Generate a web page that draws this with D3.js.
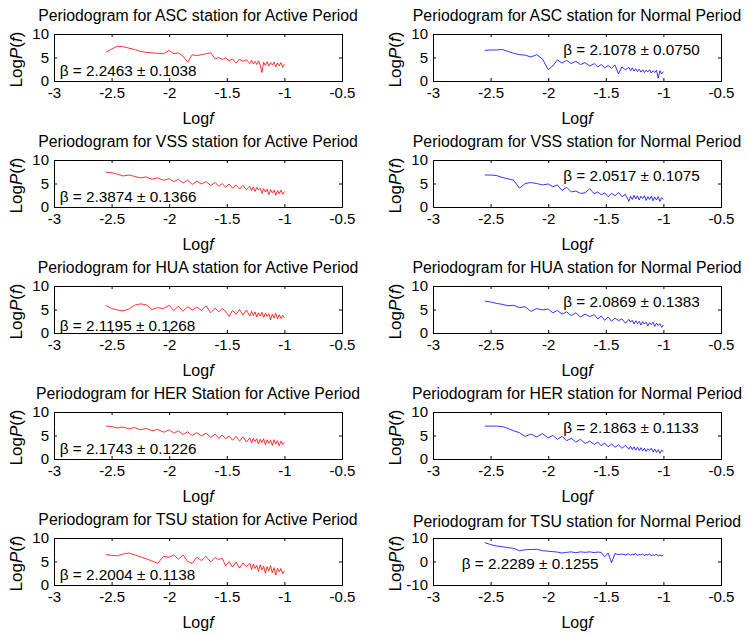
<!DOCTYPE html>
<html>
<head>
<meta charset="utf-8">
<script src="https://cdn.jsdelivr.net/npm/d3@7"></script>
<style>
  body { margin: 0; background: #fff; }
  svg { display: block; font-family: "Liberation Sans", Arial, sans-serif; }
</style>
</head>
<body>
<svg id="fig" width="748" height="636"></svg>
<script>
// log frequency positions shared by every periodogram
var logf = [-2.55,-2.5,-2.45,-2.4,-2.35,-2.3,-2.25,-2.2,-2.15,-2.1,-2.05,-2.0,
  -1.96,-1.92,-1.88,-1.84,-1.8,-1.76,-1.72,-1.68,-1.64,-1.6,
  -1.57,-1.54,-1.51,-1.48,-1.45,-1.42,-1.39,-1.36,-1.33,-1.3,
  -1.285,-1.27,-1.255,-1.24,-1.225,-1.21,-1.195,-1.18,-1.165,-1.15,-1.135,-1.12,-1.105,-1.09,-1.075,-1.06,-1.045,-1.03,-1.015,-1.0];

var ascActive = [6.1,6.8,7.4,7.3,7.0,6.7,6.3,6.1,6.0,5.9,5.8,6.5,
  5.8,6.0,5.3,4.0,5.6,5.4,5.6,5.8,6.0,4.7,
  5.0,4.6,4.9,4.3,4.7,3.8,4.6,4.2,4.5,3.7,
  4.4,3.6,4.2,3.5,4.3,3.4,1.8,4.0,3.3,4.1,3.2,3.9,3.4,4.0,3.0,3.8,3.2,3.9,2.9,3.6];
var ascNormal = [6.5,6.6,6.6,6.7,6.3,5.9,5.6,5.5,5.1,5.6,4.7,2.4,
  3.2,4.5,3.8,4.4,3.7,4.2,3.5,3.9,3.2,3.7,
  3.0,3.5,2.8,3.3,2.7,3.4,1.5,3.0,2.4,2.9,
  2.2,2.8,2.1,2.6,2.0,2.5,1.9,2.4,1.8,2.3,1.9,2.4,1.7,2.2,1.8,2.3,0.6,2.2,1.5,2.0];
var vssActive = [7.4,7.3,7.0,6.6,6.8,6.5,6.2,6.4,5.9,6.2,5.7,6.0,
  5.4,5.9,5.1,5.7,4.8,5.5,4.9,5.4,4.6,5.2,
  4.4,5.0,4.2,4.9,4.0,4.7,3.8,4.6,3.7,4.4,
  3.5,4.3,3.3,4.2,3.6,4.0,2.9,3.9,3.2,3.8,2.6,3.7,3.0,3.6,2.5,3.5,2.8,3.6,2.7,3.3];
var vssNormal = [6.8,6.8,6.7,6.3,6.0,5.7,4.0,5.0,5.2,5.0,4.7,4.9,
  4.3,4.7,3.5,4.2,3.2,3.4,2.9,3.0,3.9,2.8,
  3.2,2.6,3.0,2.2,2.9,2.4,3.1,2.2,2.7,1.2,
  2.3,1.6,2.5,1.7,2.4,1.5,2.3,1.8,2.4,1.4,2.2,1.6,2.3,1.3,2.1,1.5,2.2,1.2,2.0,1.6];
var huaActive = [5.9,5.2,4.9,4.7,5.1,5.9,6.2,6.0,5.0,5.4,5.2,5.9,
  4.8,5.7,4.6,5.6,4.9,5.5,4.8,5.8,4.3,5.3,
  4.5,5.2,4.6,3.5,4.8,4.0,5.0,3.8,4.9,3.6,
  4.6,3.7,4.5,3.4,4.3,3.6,4.4,3.3,4.2,3.5,4.1,2.8,4.0,3.2,4.2,3.0,3.9,3.1,3.8,3.2];
var huaNormal = [6.8,6.6,6.3,6.1,5.8,5.9,5.4,5.6,4.6,5.2,4.9,5.1,
  4.3,4.8,4.0,4.5,3.7,4.3,3.4,4.0,3.5,3.9,
  3.0,3.6,2.7,3.4,2.5,3.2,2.6,3.0,2.1,2.9,
  2.3,2.7,1.9,2.6,2.0,2.5,1.7,2.4,1.9,2.3,1.5,2.2,1.8,2.3,1.4,2.1,1.6,2.0,1.2,1.7];
var herActive = [7.0,6.9,6.6,6.8,6.4,6.7,6.2,6.5,6.0,6.3,5.7,6.2,
  5.5,6.0,5.2,5.8,5.0,5.6,4.9,5.5,4.6,5.3,
  4.4,5.1,4.3,4.9,4.0,4.8,3.8,4.7,3.6,4.5,
  3.4,4.4,3.7,4.3,3.2,4.2,3.5,4.3,3.0,4.1,3.3,4.0,2.9,4.1,3.2,3.9,2.8,3.8,3.1,3.6];
var herNormal = [7.0,7.0,7.0,6.9,6.5,6.0,5.6,4.8,5.3,4.7,5.4,4.5,
  5.0,4.2,4.8,3.9,4.4,3.6,4.2,3.3,3.8,3.1,
  3.6,2.8,3.4,2.6,3.2,2.5,3.0,2.3,2.9,2.1,
  2.7,2.0,2.6,1.9,2.5,1.8,2.4,1.7,2.3,1.6,2.2,1.8,2.3,1.5,2.1,1.4,2.0,1.2,1.9,1.6];
var tsuActive = [6.5,6.3,6.2,6.6,6.8,6.4,6.0,5.6,5.1,4.6,6.1,5.9,
  6.4,5.5,6.4,5.0,4.6,5.9,5.2,6.1,4.9,5.9,
  5.4,5.7,4.1,5.0,3.8,4.9,3.6,4.7,3.9,4.6,
  3.3,4.4,3.5,4.2,2.9,4.3,3.2,4.0,2.5,3.9,3.0,4.1,2.6,3.7,2.1,3.6,2.8,3.5,2.4,3.0];
var tsuNormal = [8.0,7.2,6.6,6.3,5.9,5.6,4.6,5.0,5.1,5.2,4.6,4.4,
  4.2,4.0,3.6,3.9,4.1,3.7,4.1,3.9,4.1,3.8,
  4.0,3.9,2.0,3.6,-0.5,3.4,2.9,3.2,2.8,3.3,
  2.7,3.1,2.9,3.4,2.6,3.0,2.8,3.2,2.5,3.0,2.7,3.3,2.4,2.9,2.6,3.1,2.3,2.8,2.5,2.7];

var stations = ["ASC", "VSS", "HUA", "HER", "TSU"];
var activeSeries = [ascActive, vssActive, huaActive, herActive, tsuActive];
var normalSeries = [ascNormal, vssNormal, huaNormal, herNormal, tsuNormal];
var activeBeta = ["2.2463 \u00b1 0.1038", "2.3874 \u00b1 0.1366", "2.1195 \u00b1 0.1268", "2.1743 \u00b1 0.1226", "2.2004 \u00b1 0.1138"];
var normalBeta = ["2.1078 \u00b1 0.0750", "2.0517 \u00b1 0.1075", "2.0869 \u00b1 0.1383", "2.1863 \u00b1 0.1133", "2.2289 \u00b1 0.1255"];
var xTicks = [-3, -2.5, -2, -1.5, -1, -0.5];

var svg = d3.select("#fig");

var colLeft = [54, 433];
var pw = 288;
var ph = 47;
var rowTop = [34, 160, 286, 412, 538];

function drawPanel(left, top, title, ys, color, beta, betaPos, yDomain, yTicks, titleDy) {
  var g = svg.append("g").attr("transform", "translate(" + left + "," + top + ")");

  var x = d3.scaleLinear().domain([-3, -0.5]).range([0, pw]);
  var y = d3.scaleLinear().domain(yDomain).range([ph, 0]);

  var line = d3.line()
    .x(function(d, i) { return x(logf[i]); })
    .y(function(d) { return y(d); });

  g.append("path")
    .datum(ys)
    .attr("d", line)
    .attr("fill", "none")
    .attr("stroke", color)
    .attr("stroke-width", 0.8);

  var fmt = function(d) { return String(d); };

  g.append("g")
    .attr("transform", "translate(0," + ph + ")")
    .call(d3.axisBottom(x).tickValues(xTicks).tickSize(-3).tickPadding(6).tickFormat(fmt));
  g.append("g")
    .call(d3.axisTop(x).tickValues(xTicks).tickSize(-3).tickFormat(""));
  g.append("g")
    .call(d3.axisLeft(y).tickValues(yTicks).tickSize(-3).tickPadding(5).tickFormat(fmt));
  g.append("g")
    .attr("transform", "translate(" + pw + ",0)")
    .call(d3.axisRight(y).tickValues(yTicks).tickSize(-3).tickFormat(""));

  g.selectAll(".domain").attr("stroke", "#000");
  g.selectAll(".tick line").attr("stroke", "#000");
  g.selectAll(".tick text")
    .attr("fill", "#000")
    .style("font-size", "15px")
    .style("font-family", "Liberation Sans, Arial, sans-serif");

  g.append("text")
    .text(title)
    .attr("x", pw / 2)
    .attr("y", -13 + titleDy)
    .attr("text-anchor", "middle")
    .style("font-size", "15.8px");

  var xl = g.append("text")
    .attr("x", pw / 2)
    .attr("y", ph + 43)
    .attr("text-anchor", "middle")
    .style("font-size", "16px");
  xl.append("tspan").text("Log");
  xl.append("tspan").text("f").style("font-style", "italic");

  var yl = g.append("text")
    .attr("transform", "translate(-32," + (ph / 2 + 2) + ") rotate(-90)")
    .attr("text-anchor", "middle")
    .style("font-size", "17px");
  yl.append("tspan").text("Log");
  yl.append("tspan").text("P").style("font-style", "italic");
  yl.append("tspan").text("(");
  yl.append("tspan").text("f").style("font-style", "italic");
  yl.append("tspan").text(")");

  g.append("text")
    .text("\u03b2 = " + beta)
    .attr("x", x(betaPos[0]))
    .attr("y", y(betaPos[1]))
    .style("font-size", "15.3px");
}

for (var r = 0; r < 5; r++) {
  drawPanel(colLeft[0], rowTop[r],
    "Periodogram for " + stations[r] + (r == 3 ? " Station" : " station") + " for Active Period",
    activeSeries[r], "#ff0000", activeBeta[r], [-2.95, r == 2 ? 0.5 : 1.0], [0, 10], [0, 5, 10], 0);
  if (r < 4) {
    drawPanel(colLeft[1], rowTop[r],
      "Periodogram for " + stations[r] + " station for Normal Period",
      normalSeries[r], "#0000ff", normalBeta[r], [-1.87, 5.5], [0, 10], [0, 5, 10], 0);
  } else {
    drawPanel(colLeft[1], rowTop[r],
      "Periodogram for " + stations[r] + " station for Normal Period",
      normalSeries[r], "#0000ff", normalBeta[r], [-2.75, -3.3], [-10, 10], [-10, 0, 10], 2);
  }
}
</script>
</body>
</html>
